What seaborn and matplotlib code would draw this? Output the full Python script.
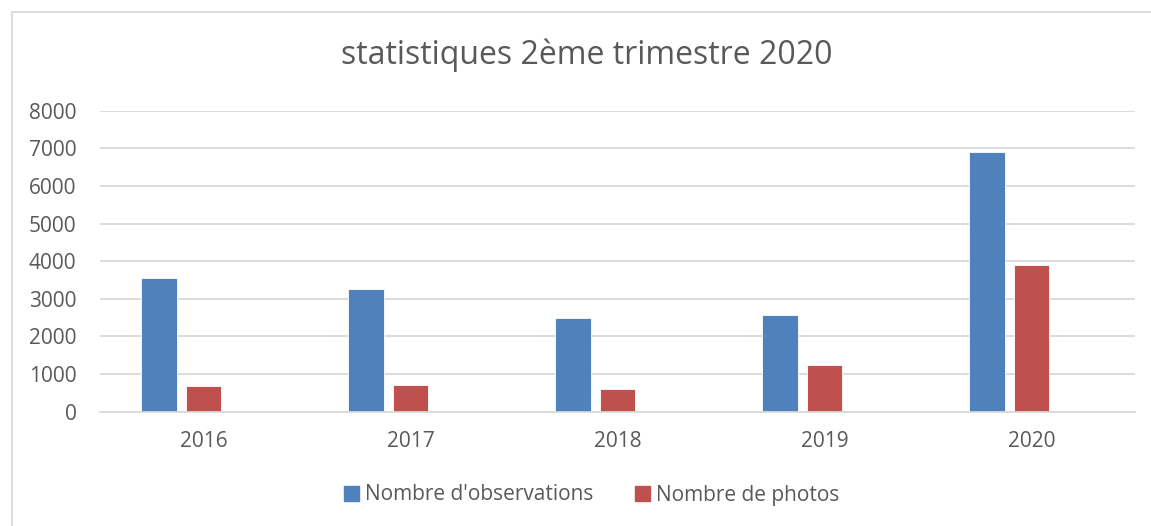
import matplotlib
matplotlib.use("Agg")
import matplotlib.pyplot as plt
import matplotlib.patches as mpatches
import seaborn as sns
import pandas as pd

years = ["2016", "2017", "2018", "2019", "2020"]
observations = [3560, 3260, 2500, 2570, 6900]
photos = [690, 720, 600, 1250, 3890]
series_names = ["Nombre d'observations", "Nombre de photos", " "]
colors = ["#4F81BD", "#C0504D", "#FFFFFF"]
yticks = [0, 1000, 2000, 3000, 4000, 5000, 6000, 7000, 8000]
title = "statistiques 2ème trimestre 2020"

df = pd.DataFrame({
    "year": years * 2,
    "value": observations + photos,
    "series": [series_names[0]] * len(years) + [series_names[1]] * len(years),
})

sns.set_theme(style="white")
plt.rcParams["font.family"] = ["Open Sans", "DejaVu Sans"]

W, H = 1151, 526
fig = plt.figure(figsize=(W / 100, H / 100), dpi=100)
ax = fig.add_axes([100 / W, 1 - 411.7 / H, 1035 / W, (411.7 - 110.7) / H])

sns.barplot(data=df, x="year", y="value", hue="series", hue_order=series_names,
            order=years, palette=dict(zip(series_names, colors)),
            width=0.652, gap=0.2, dodge=True, ax=ax, legend=False,
            edgecolor="white", linewidth=0.6, saturation=1)

ax.set_ylim(0, 8000)
ax.set_yticks(yticks)
ax.set_yticklabels([str(v) for v in yticks])
ax.set_xlim(-0.5, len(years) - 0.5)
ax.yaxis.grid(True, color="#D9D9D9", linewidth=1.3)
ax.set_axisbelow(True)
for s in ["top", "right", "left"]:
    ax.spines[s].set_visible(False)
ax.spines["bottom"].set_color("#D9D9D9")
ax.spines["bottom"].set_linewidth(1.3)
ax.tick_params(axis="y", length=0, pad=17, labelsize=15, labelcolor="#595959")
ax.tick_params(axis="x", length=0, pad=14, labelsize=15, labelcolor="#595959")
ax.set_xlabel("")
ax.set_ylabel("")

fig.text(587 / W, 1 - 55 / H, title, ha="center", va="center",
         fontsize=23, color="#595959")

handles = [mpatches.Patch(color=c, label=n) for c, n in zip(colors[:2], series_names[:2])]
fig.legend(handles=handles, loc="center", bbox_to_anchor=(592 / W, 1 - 495 / H),
           ncol=2, frameon=False, fontsize=15, labelcolor="#595959",
           handlelength=0.7, handleheight=0.7, handletextpad=0.3, columnspacing=2.0)

border = mpatches.Rectangle((12 / W, -0.1), 1.2, 1 - 12 / H + 0.1, transform=fig.transFigure,
                            fill=False, edgecolor="#D9D9D9", linewidth=1.3)
fig.patches.append(border)

fig.savefig("out.png", dpi=100)
